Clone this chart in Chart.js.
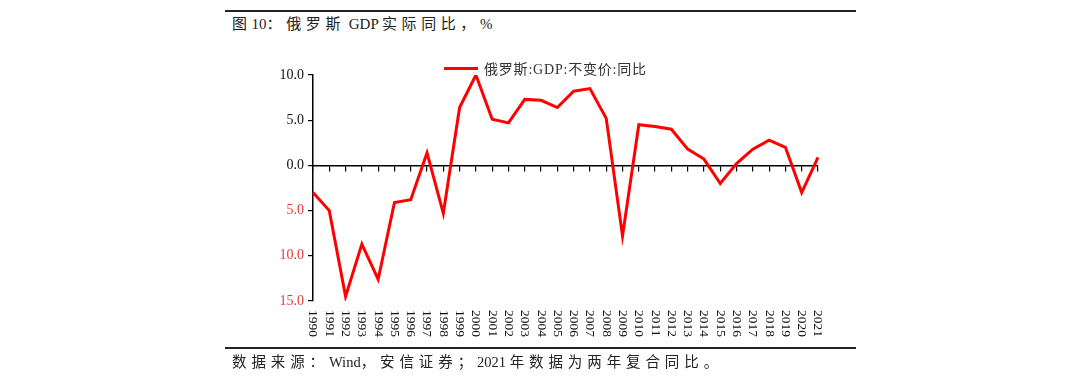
<!DOCTYPE html>
<html>
<head>
<meta charset="utf-8">
<script src="https://cdn.jsdelivr.net/npm/chart.js@4/dist/chart.umd.min.js"></script>
<style>
  html, body { margin:0; padding:0; background:#fff; }
  #wrap { position:relative; width:1080px; height:390px; overflow:hidden; font-family:"Liberation Serif","Noto Sans CJK SC",serif; }
  #c { position:absolute; left:0; top:0; }
  .rule { position:absolute; left:225px; width:631px; height:1.5px; background:#222; }
  #title { position:absolute; left:232px; top:12px; font-size:15px; color:#222; white-space:nowrap; }
  #title .cj { letter-spacing:4.6px; }
  #foot { position:absolute; left:232px; top:350px; font-size:14.5px; color:#222; white-space:nowrap; }
  #foot .cj { letter-spacing:4.9px; }
  #legend { position:absolute; left:444px; top:59px; height:18px; display:flex; align-items:center; font-size:14px; letter-spacing:0.8px; color:#333; white-space:nowrap; }
  #legend .sw { width:34px; height:3px; background:#ff0000; margin-right:6px; }
</style>
</head>
<body>
<div id="wrap">
  <div class="rule" style="top:10px"></div>
  <div id="title"><span class="cj">图</span>10<span class="cj">：俄罗斯</span> GDP <span class="cj">实际同比，</span>%</div>
  <canvas id="c" width="1080" height="390"></canvas>
  <div id="legend"><span class="sw"></span><span id="legtext"></span></div>
  <div class="rule" style="top:347px"></div>
  <div id="foot"><span class="cj">数据来源：</span>Wind<span class="cj">，安信证券；</span>2021 <span class="cj">年数据为两年复合同比。</span></div>
</div>
<script>
const years = ['1990','1991','1992','1993','1994','1995','1996','1997','1998','1999','2000','2001','2002','2003','2004','2005','2006','2007','2008','2009','2010','2011','2012','2013','2014','2015','2016','2017','2018','2019','2020','2021'];
const gdpYoY = [-3.0,-5.0,-14.5,-8.7,-12.6,-4.1,-3.8,1.4,-5.3,6.4,10.0,5.1,4.7,7.3,7.2,6.4,8.2,8.5,5.2,-7.8,4.5,4.3,4.0,1.8,0.7,-2.0,0.2,1.8,2.8,2.0,-3.0,0.9];
const seriesName = '俄罗斯:GDP:不变价:同比';
const yMin = -15, yMax = 10, yStep = 5;

document.getElementById('legtext').textContent = seriesName;

const xLabelPlugin = {
  id: 'xLabels',
  afterDraw(chart) {
    const ctx = chart.ctx;
    const xs = chart.scales.x;
    const yb = chart.chartArea.bottom + 9;
    ctx.save();
    ctx.font = '13.5px "Liberation Serif", serif';
    ctx.fillStyle = '#111';
    ctx.textAlign = 'left';
    ctx.textBaseline = 'middle';
    years.forEach((lab, i) => {
      const x = xs.getPixelForValue(i);
      ctx.save();
      ctx.translate(x, yb);
      ctx.rotate(Math.PI / 2);
      ctx.fillText(lab, 0, 0);
      ctx.restore();
    });
    ctx.restore();
  }
};

new Chart(document.getElementById('c'), {
  type: 'line',
  data: {
    labels: years,
    datasets: [{
      label: seriesName,
      data: gdpYoY,
      borderColor: '#ff0000',
      borderWidth: 3,
      pointRadius: 0,
      tension: 0,
      fill: false
    }]
  },
  options: {
    responsive: false,
    animation: false,
    layout: { padding: { left: 253, right: 262, top: 75, bottom: 89 } },
    plugins: { legend: { display: false }, tooltip: { enabled: false } },
    scales: {
      x: {
        type: 'category',
        offset: false,
        position: { y: 0 },
        grid: { drawOnChartArea: false, drawTicks: true, tickLength: 5, color: '#000', lineWidth: 1.2 },
        border: { display: true, color: '#000', width: 1.5 },
        ticks: { display: false }
      },
      y: {
        min: yMin, max: yMax,
        afterFit(scale) { scale.width = 60; },
        grid: { drawOnChartArea: false, drawTicks: true, tickLength: 5, color: '#000', lineWidth: 1.2 },
        border: { display: true, color: '#000', width: 1.5 },
        ticks: {
          stepSize: yStep,
          padding: 4,
          font: { family: '"Liberation Serif", serif', size: 14 },
          color: (c) => (c.tick && c.tick.value < 0) ? '#e8383d' : '#111',
          callback: (v) => Math.abs(v).toFixed(1)
        }
      }
    }
  },
  plugins: [xLabelPlugin]
});
</script>
</body>
</html>
